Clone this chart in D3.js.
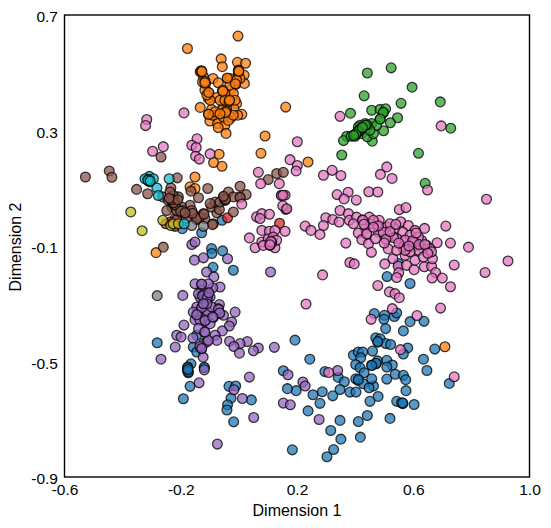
<!DOCTYPE html>
<html>
<head>
<meta charset="utf-8">
<script src="https://cdn.jsdelivr.net/npm/d3@7"></script>
<style>
html,body{margin:0;padding:0;background:#fff}
svg{display:block}
text{font-family:"Liberation Sans",Arial,sans-serif;fill:#000}
</style>
</head>
<body>
<svg id="chart" width="551" height="528"></svg>
<script>
const xTicks = [-0.6,-0.2,0.2,0.6,1.0];
const yTicks = [-0.9,-0.5,-0.1,0.3,0.7];

const blue = [[.510,-.206],[.589,-.230],[.193,-.426],[.244,-.492],[.466,-.334],[.501,-.340],[.535,-.344],[.543,-.332],[.499,-.354],[.505,-.386],[.589,-.362],[.637,-.361],[.566,-.394],[.471,-.418],[.486,-.421],[.478,-.433],[.506,-.438],[.522,-.441],[.460,-.464],[.581,-.453],[.566,-.474],[.674,-.457],[.635,-.492],[.647,-.531],[.394,-.478],[.411,-.467],[.426,-.467],[.419,-.487],[.402,-.511],[.417,-.522],[.457,-.512],[.472,-.508],[.477,-.498],[.509,-.496],[.528,-.512],[.509,-.519],[.431,-.539],[.296,-.535],[.342,-.555],[.363,-.570],[.402,-.560],[.411,-.566],[.428,-.577],[.463,-.585],[.448,-.591],[.457,-.560],[.509,-.561],[.538,-.544],[.566,-.548],[.574,-.563],[.575,-.601],[.479,-.621],[.451,-.638],[.543,-.638],[.564,-.646],[.560,-.643],[.603,-.649],[.348,-.597],[.382,-.606],[.403,-.606],[.323,-.619],[.287,-.605],[.255,-.615],[.197,-.601],[.279,-.645],[.238,-.671],[.348,-.704],[.411,-.708],[.442,-.687],[.520,-.697],[.316,-.739],[.351,-.769],[.418,-.762],[.184,-.806],[.326,-.805],[.303,-.830],[.724,-.576],[.549,-.161],[-.094,-.109],[-.093,-.126],[-.056,-.117],[-.089,-.174],[-.019,-.184],[-.281,-.435],[-.145,-.409],[-.157,-.450],[-.145,-.467],[-.165,-.508],[-.176,-.519],[-.174,-.539],[-.177,-.531],[-.119,-.522],[-.168,-.586],[-.191,-.629],[-.034,-.586],[-.011,-.585],[-.027,-.627],[-.039,-.650],[-.041,-.668],[.043,-.633],[-.018,-.709],[.153,-.532],[.167,-.594],[-.128,-.054],[-.058,-.011],[-.195,-.040],[-.220,-.005],[-.176,-.522],[-.174,-.536],[-.175,-.528],[-.119,-.520],[.564,-.644],[.411,-.562],[.478,-.431],[.472,-.506],[.457,-.514]];

const orange = [[-.003,.627],[-.177,.584],[-.061,.548],[-.057,.521],[-.005,.536],[.023,.533],[-.129,.507],[-.133,.503],[-.001,.509],[.018,.492],[-.089,.480],[-.118,.471],[-.115,.460],[-.071,.465],[-.039,.480],[-.031,.480],[-.002,.497],[-.010,.460],[.019,.463],[-.056,.434],[-.028,.442],[-.103,.430],[-.105,.411],[-.117,.440],[-.076,.414],[-.033,.403],[-.008,.393],[-.133,.380],[-.094,.373],[-.054,.382],[-.017,.376],[-.044,.365],[-.065,.359],[-.105,.356],[-.076,.342],[.010,.356],[-.004,.353],[-.027,.345],[-.100,.333],[-.073,.324],[-.048,.318],[-.071,.310],[-.044,.290],[.161,.381],[.090,.281],[.076,.221],[-.068,.218],[-.087,.189],[-.058,.176],[-.151,.139],[-.168,.105],[-.151,.099],[.004,.480],[-.019,.428],[-.048,.428],[-.065,.405],[-.042,.375],[-.054,.347],[-.036,.335],[-.019,.353],[-.099,.405],[-.110,.423],[-.122,.486],[-.125,.468],[-.008,.474],[-.031,.457],[-.056,.440],[-.048,.405],[-.013,.405],[-.090,.353],[-.059,.370],[-.082,.365],[.238,.191],[.709,-.449],[-.285,-.123],[-.130,.506],[-.127,.504],[-.116,.470],[-.117,.465],[-.104,.432],[-.002,.507],[.000,.505],[-.034,.401],[-.032,.405],[-.044,.367],[-.046,.362],[-.055,.436],[-.104,.356],[-.065,.358],[-.040,.482],[-.012,.462]];

const green = [[.442,.499],[.524,.517],[.596,.450],[.431,.420],[.558,.394],[.693,.399],[.384,.360],[.457,.370],[.486,.373],[.505,.375],[.497,.361],[.546,.344],[.486,.339],[.521,.327],[.729,.308],[.498,.299],[.434,.324],[.442,.318],[.419,.307],[.411,.295],[.394,.283],[.371,.280],[.360,.265],[.386,.280],[.400,.280],[.423,.289],[.459,.263],[.442,.278],[.463,.289],[.457,.324],[.474,.318],[.428,.312],[.405,.289],[.354,.215],[.618,.221],[.641,.117],[.451,.301],[.417,.318],[.411,.312],[.420,.307],[.417,.305],[.414,.300],[.408,.296],[.402,.288],[.440,.320],[.435,.318],[.425,.310],[.395,.283],[.497,.363],[.486,.340]];

const red = [[-.039,-.002],[.140,-.021],[-.237,-.017],[-.214,-.009],[-.251,-.023],[-.220,-.032]];

const purple = [[-.153,-.149],[-.122,-.141],[-.039,-.144],[.109,-.190],[-.162,-.095],[-.151,-.086],[-.111,-.190],[-.086,-.207],[-.151,-.231],[-.128,-.233],[-.065,-.242],[-.090,-.245],[-.193,-.271],[-.122,-.271],[-.111,-.282],[-.105,-.265],[-.134,-.277],[-.114,-.294],[-.067,-.303],[-.145,-.311],[-.128,-.315],[-.071,-.317],[-.065,-.334],[-.013,-.329],[-.145,-.340],[-.088,-.348],[-.117,-.361],[-.151,-.355],[-.189,-.374],[-.025,-.363],[-.033,-.377],[-.057,-.394],[-.119,-.399],[-.214,-.409],[-.199,-.415],[-.082,-.409],[-.076,-.427],[-.158,-.419],[-.032,-.430],[.029,-.431],[.004,-.438],[-.017,-.448],[-.122,-.438],[-.128,-.456],[.002,-.471],[.067,-.453],[.050,-.463],[.122,-.451],[-.219,-.450],[-.123,-.485],[-.268,-.492],[-.119,-.529],[.169,-.546],[.036,-.554],[-.137,-.574],[-.017,-.598],[.012,-.628],[.051,-.694],[.153,-.644],[.177,-.650],[-.074,-.786],[-.107,-.329],[-.139,-.329],[-.099,-.369],[-.134,-.357],[-.111,-.323],[-.094,-.311],[-.128,-.253],[-.099,-.277],[-.116,-.277],[-.105,-.231],[-.139,-.265],[-.139,-.386],[-.111,-.433],[-.134,-.448],[-.105,-.427],[-.053,-.340],[-.157,-.329],[.340,-.531],[.220,-.571],[.228,-.585],[.276,-.701],[-.122,-.268],[-.118,-.275],[-.113,-.280],[-.111,-.286],[-.125,-.273],[-.108,-.278],[-.128,-.232],[-.103,-.262],[-.128,-.313],[-.116,-.358],[-.117,-.398],[-.128,-.455],[-.145,-.338],[-.070,-.320],[-.066,-.332],[-.090,-.346],[-.110,-.300],[-.122,-.300]];

const brown = [[-.528,.139],[-.446,.160],[-.437,.138],[-.268,.208],[-.352,.096],[-.314,.081],[-.212,.136],[-.234,.101],[-.107,.099],[-.165,.090],[-.139,.067],[-.262,.070],[-.243,.058],[-.226,.058],[-.220,.041],[-.208,.070],[-.231,.035],[-.248,.023],[-.202,.018],[-.185,.012],[-.168,.041],[-.197,.035],[-.157,.010],[-.122,.012],[-.145,-.009],[-.117,-.005],[-.088,-.023],[-.076,.015],[-.094,.035],[-.067,.026],[-.053,.070],[-.036,.087],[.004,.107],[.004,.070],[.025,.078],[-.019,.070],[-.048,.058],[-.082,.052],[-.019,.018],[-.091,-.026],[-.099,.047],[-.065,.052],[.101,.130],[.130,.151],[.153,.155],[.161,.027],[-.226,.075],[-.237,.087],[-.214,.023],[-.162,.023],[-.134,.000],[-.180,-.005],[-.226,.047],[-.193,.023],[-.260,-.104],[-.226,.060],[-.222,.055],[-.219,.043],[-.225,.050],[-.232,.060],[-.200,.020],[-.048,.060],[-.046,.062],[-.053,.072],[.004,.068],[-.145,-.006],[-.160,.013],[-.120,.010],[-.185,.015],[-.210,.060],[-.240,.065]];

const pink = [[-.317,.338],[-.321,.317],[-.189,.361],[-.144,.271],[-.162,.249],[-.147,.241],[-.297,.228],[-.260,.244],[-.149,.211],[-.136,.201],[-.099,.219],[.067,.155],[.075,.116],[.139,.116],[.176,.199],[.201,.179],[.197,.160],[.201,.261],[.147,.076],[.159,.076],[.151,.039],[.165,.029],[.061,.001],[.079,.012],[.105,.010],[.073,-.005],[.010,.045],[.079,-.046],[.105,-.049],[.124,-.046],[.159,-.049],[.036,-.072],[.056,-.106],[.079,-.086],[.101,-.075],[.118,-.069],[.113,-.086],[.084,-.098],[.124,-.106],[.130,-.080],[.107,-.098],[.348,.349],[.696,.316],[.509,.174],[.487,.148],[.527,.134],[.291,.145],[.321,.162],[.351,.144],[.649,.094],[.852,.062],[.338,.078],[.376,.086],[.362,.063],[.404,.059],[.447,.088],[.478,.087],[.552,.026],[.575,.033],[.348,.023],[.377,.012],[.299,-.002],[.323,-.008],[.345,-.017],[.291,-.029],[.228,-.031],[.248,-.046],[.279,-.060],[.368,-.090],[.639,-.039],[.712,-.031],[.790,-.104],[.728,-.090],[.682,-.089],[.380,-.011],[.405,.000],[.426,-.009],[.449,.000],[.483,-.011],[.477,-.034],[.509,-.034],[.537,-.040],[.557,-.016],[.583,-.029],[.564,-.052],[.606,-.046],[.532,-.069],[.506,-.075],[.545,-.075],[.572,-.081],[.600,-.086],[.629,-.081],[.646,-.098],[.451,-.023],[.434,-.040],[.411,-.055],[.440,-.060],[.423,-.078],[.446,-.092],[.480,-.052],[.514,-.110],[.566,-.110],[.600,-.104],[.635,-.110],[.658,-.110],[.520,-.023],[.463,-.011],[.394,-.023],[.497,-.052],[.589,-.063],[.618,-.069],[.456,-.122],[.618,-.115],[.572,-.132],[.530,-.144],[.502,-.162],[.382,-.157],[.397,-.162],[.288,-.200],[.548,-.170],[.550,-.193],[.543,-.209],[.577,-.167],[.603,-.182],[.638,-.172],[.663,-.170],[.666,-.144],[.741,-.166],[.847,-.192],[.926,-.152],[.677,-.192],[.665,-.211],[.700,-.211],[.728,-.241],[.478,-.237],[.518,-.259],[.537,-.265],[.552,-.279],[.231,-.301],[.528,-.317],[.455,-.354],[.613,-.341],[.694,-.315],[.556,-.459],[.741,-.553],[.309,-.538],[.606,-.149],[.635,-.138],[.663,-.120],[.566,-.103],[.589,-.120],[.572,-.115],[.543,-.115],[.572,-.079],[.600,-.084],[.604,-.088],[.598,-.082],[.426,-.011],[.440,-.058],[.113,-.088],[.110,-.084],[.107,-.096],[.146,.075],[.152,.076],[.532,-.071],[.506,-.077],[.480,-.030],[.463,-.035],[.520,-.050],[.585,-.100],[.550,-.090],[.620,-.095],[.640,-.095],[.650,-.125],[.500,-.090],[.470,-.075],[.430,-.025],[.540,-.025],[.610,-.055]];

const gray = [[-.281,-.272],[-.162,-.029],[-.122,-.032]];

const olive = [[-.372,.018],[-.333,-.047],[-.262,-.011],[-.234,-.029],[-.226,-.023],[-.208,-.023]];

const cyan = [[-.315,.133],[-.308,.141],[-.323,.133],[-.306,.122],[-.294,.133],[-.311,.125],[-.240,.133],[-.282,.101],[-.277,.075],[-.188,-.023],[-.310,.130],[-.313,.128],[-.305,.125]];

// Painted in category order, so later clusters sit on top of earlier ones.
const seriesList = [
  {points: blue,   color: "#1f77b4"},
  {points: orange, color: "#ff7f0e"},
  {points: green,  color: "#2ca02c"},
  {points: red,    color: "#d62728"},
  {points: purple, color: "#9467bd"},
  {points: brown,  color: "#8c564b"},
  {points: pink,   color: "#e377c2"},
  {points: gray,   color: "#7f7f7f"},
  {points: olive,  color: "#bcbd22"},
  {points: cyan,   color: "#17becf"}
];

const margin = {left: 64.5, right: 21.5, top: 15, bottom: 51};
const svg = d3.select("#chart");
const width = +svg.attr("width"), height = +svg.attr("height");

const x = d3.scaleLinear().domain([-0.6, 1.0]).range([margin.left, width - margin.right]);
const y = d3.scaleLinear().domain([-0.9, 0.7]).range([height - margin.bottom, margin.top]);

const plot = svg.append("g");
seriesList.forEach(s => {
  plot.append("g").selectAll("circle").data(s.points).join("circle")
    .attr("cx", d => x(d[0]))
    .attr("cy", d => y(d[1]))
    .attr("r", 4.9)
    .attr("fill", s.color)
    .attr("fill-opacity", 0.75)
    .attr("stroke", "#000")
    .attr("stroke-opacity", 0.75)
    .attr("stroke-width", 1.3);
});

svg.append("rect")
  .attr("x", margin.left).attr("y", margin.top)
  .attr("width", x.range()[1] - x.range()[0])
  .attr("height", y.range()[0] - y.range()[1])
  .attr("fill", "none").attr("stroke", "#000").attr("stroke-width", 1.4);

const fmt = v => v.toFixed(1);

const xAxis = svg.append("g")
  .attr("transform", `translate(0,${y.range()[0]})`)
  .call(d3.axisBottom(x).tickValues(xTicks).tickFormat(fmt).tickSize(0).tickPadding(7));
const yAxis = svg.append("g")
  .attr("transform", `translate(${margin.left},0)`)
  .call(d3.axisLeft(y).tickValues(yTicks).tickFormat(fmt).tickSize(0).tickPadding(6.5));
[xAxis, yAxis].forEach(a => {
  a.select(".domain").remove();
  a.selectAll("text").style("font-size", "15.5px").style("font-family", '"Liberation Sans",Arial,sans-serif');
});
yAxis.selectAll("text").attr("dy", "0.42em");

svg.append("text").attr("x", 297).attr("y", 516)
  .attr("text-anchor", "middle").style("font-size", "16px").text("Dimension 1");
svg.append("text").attr("transform", "translate(21,247) rotate(-90)")
  .attr("text-anchor", "middle").style("font-size", "16px").text("Dimension 2");
</script>
</body>
</html>
